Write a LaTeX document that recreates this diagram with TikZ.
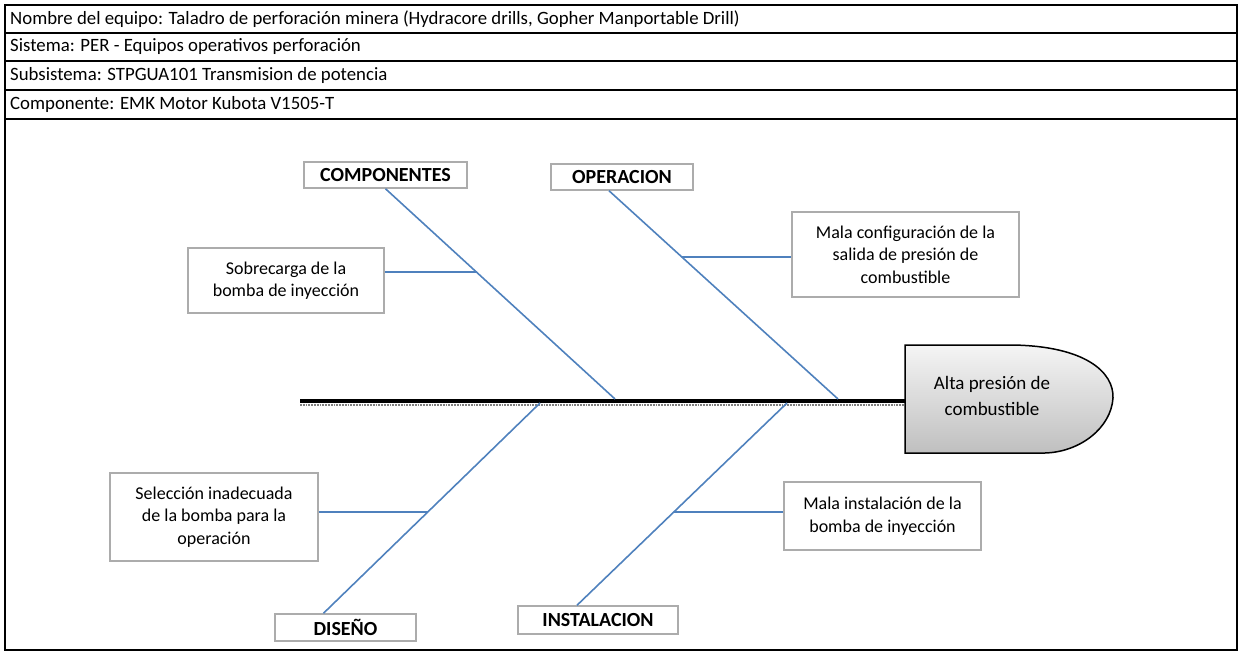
\documentclass[tikz,border=0pt]{standalone}
\usepackage{fontspec}
\setmainfont{Carlito}
\definecolor{boneblue}{HTML}{4F81BD}
\begin{document}
\begin{tikzpicture}[x=1pt, y=-1pt,
    causa/.style={draw=gray!65, line width=1.5pt, fill=white, align=center, inner sep=2pt, font=\fontsize{18}{22.5}\selectfont},
    categoria/.style={draw=gray!65, line width=1.5pt, fill=white, inner sep=2pt, font=\fontsize{20}{24}\selectfont\bfseries},
    espina/.style={boneblue, line width=1.6pt},
    fila/.style={anchor=west, inner sep=0pt, font=\fontsize{18.8}{20}\selectfont}]
    \useasboundingbox (0,0) rectangle (1241,651);
    % header table
    \draw[line width=1.6pt] (5,5) rectangle (1237,650);
    \foreach \y in {33,61,90} \draw[line width=1.6pt] (5,\y) -- (1237,\y);
    \draw[line width=2.4pt] (5,119) -- (1237,119);
    \node[fila] (equipo) at (10,19) {Nombre del equipo: Taladro de perforación minera (Hydracore drills, Gopher Manportable Drill)};
    \node[fila] (sistema) at (10,47) {Sistema: PER - Equipos operativos perforación};
    \node[fila] (subsistema) at (10,75.5) {Subsistema: STPGUA101 Transmision de potencia};
    \node[fila] (componente) at (10,104.5) {Componente: EMK Motor Kubota V1505-T};
    % spine and head
    \coordinate (cola) at (300,401);
    \coordinate (cabeza) at (905,401);
    \draw[gray, densely dotted, line width=1.8pt] ([yshift=-3.8pt]cola) -- ([yshift=-3.8pt]cabeza);
    \draw[line width=4.5pt] (cola) -- (cabeza);
    \draw[line width=1.5pt, top color=gray!8, bottom color=gray!50] (905,345) -- (1012,345) .. controls (1085,346) and (1114,372) .. (1113,398) .. controls (1111,428) and (1080,452) .. (1045,453) -- (905,453) -- cycle;
    \node[align=center, font=\fontsize{19}{26}\selectfont] (efecto) at (992,396) {Alta presión de\\combustible};
    % categories
    \node[categoria, minimum width=163pt, minimum height=26pt] (comp) at (385.5,175) {COMPONENTES};
    \node[categoria, minimum width=142pt, minimum height=26pt] (oper) at (622,177) {OPERACION};
    \node[categoria, minimum width=141pt, minimum height=27pt] (dise) at (345.5,627.5) {DISEÑO};
    \node[categoria, minimum width=160pt, minimum height=28pt] (inst) at (598,620) {INSTALACION};
    \coordinate (c1) at (615,399);
    \coordinate (c2) at (838,399);
    \coordinate (c3) at (540,403);
    \coordinate (c4) at (787,403);
    \draw[espina] (comp.south) -- (c1);
    \draw[espina] ([xshift=-13pt]oper.south) -- (c2);
    \draw[espina] ([xshift=-22pt]dise.north) -- (c3);
    \draw[espina] ([xshift=-21pt]inst.north) -- (c4);
    % causes
    \node[causa, minimum width=196pt, minimum height=65pt] (sobre) at (286,280.5) {Sobrecarga de la\\bomba de inyección};
    \node[causa, minimum width=227pt, minimum height=85pt] (mconf) at (905.5,254.5) {Mala configuración de la\\salida de presión de\\combustible};
    \node[causa, minimum width=208pt, minimum height=88pt] (selec) at (214,517) {Selección inadecuada\\de la bomba para la\\operación};
    \node[causa, minimum width=197pt, minimum height=68pt] (minst) at (882.5,516) {Mala instalación de la\\bomba de inyección};
    \coordinate (k1) at (477,272);
    \coordinate (k2) at (682.4,257);
    \coordinate (k3) at (428.2,512);
    \coordinate (k4) at (674.2,512);
    \draw[espina] (k1 -| sobre.east) -- (k1);
    \draw[espina] (k2) -- (k2 -| mconf.west);
    \draw[espina] (k3 -| selec.east) -- (k3);
    \draw[espina] (k4) -- (k4 -| minst.west);
\end{tikzpicture}
\end{document}
